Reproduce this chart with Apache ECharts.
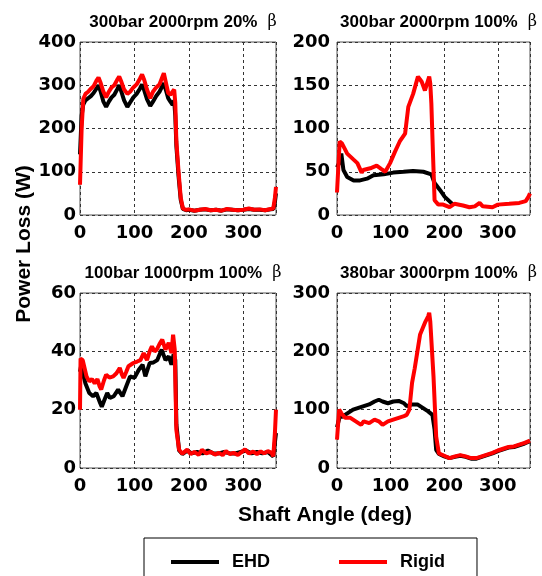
<!DOCTYPE html>
<html>
<head>
<meta charset="utf-8">
<script src="https://cdn.jsdelivr.net/npm/echarts@6/dist/echarts.min.js"></script>
<style>
html,body{margin:0;padding:0;background:#fff;}
#chart{width:542px;height:576px;}
</style>
</head>
<body>
<div id="chart"></div>
<script>
// ---- Data (shaft angle in deg, power loss in W) ----
const seriesNames = ['EHD', 'Rigid'];
const xTicks = [0, 100, 200, 300];
const panelTitles = ['300bar 2000rpm 20%', '300bar 2000rpm 100%', '100bar 1000rpm 100%', '380bar 3000rpm 100%'];
const yMax = [400, 200, 60, 300];
const yInterval = [100, 50, 20, 100];

// Panel 1: 300bar 2000rpm 20% beta
const ehd1 = [[0,140],[3,230],[6,255],[10,265],[15,270],[20,275],[25,282],[30,292],[34,300],[38,285],[43,262],[48,250],[53,262],[58,272],[63,278],[68,290],[72,300],[76,285],[81,265],[87,250],[92,260],[98,272],[104,280],[110,292],[114,302],[118,288],[123,268],[129,252],[134,262],[140,275],[146,285],[150,295],[154,305],[158,288],[162,270],[166,262],[170,255],[173,265],[175,230],[177,160],[181,90],[185,35],[189,14],[195,11],[200,12],[210,10],[220,12],[230,13],[240,11],[250,12],[260,10],[270,13],[280,12],[290,11],[300,12],[310,14],[320,12],[330,12],[340,11],[350,13],[355,14],[358,30],[360,50]];
const rigid1 = [[0,70],[3,200],[6,268],[10,280],[15,285],[20,292],[25,298],[30,310],[34,318],[38,305],[43,285],[48,272],[53,285],[58,295],[63,300],[68,312],[72,320],[76,308],[81,290],[87,280],[92,285],[98,295],[104,302],[110,315],[114,325],[118,312],[123,290],[129,270],[134,285],[140,295],[146,302],[150,315],[154,328],[158,305],[162,282],[166,278],[170,285],[173,290],[175,260],[177,170],[181,100],[185,40],[189,15],[195,12],[200,13],[210,10],[220,12],[230,14],[240,11],[250,12],[260,10],[270,14],[280,12],[290,11],[300,12],[310,15],[320,12],[330,13],[340,11],[350,14],[355,15],[358,40],[360,65]];

// Panel 2: 300bar 2000rpm 100% beta
const ehd2 = [[0,55],[4,60],[8,71],[12,52],[19,44],[31,40],[43,40],[56,42],[68,46],[87,47],[105,49],[124,50],[142,51],[161,50],[176,47],[182,37],[192,29],[201,21],[213,14],[216,12]];
const rigid2 = [[0,26],[5,85],[9,83],[19,71],[31,64],[38,60],[46,49],[49,52],[62,54],[74,57],[83,53],[90,50],[99,60],[108,73],[117,85],[127,94],[133,125],[142,140],[151,160],[158,154],[164,144],[167,142],[172,160],[174,152],[176,129],[179,71],[182,17],[189,12],[198,12],[210,9],[219,13],[235,11],[247,9],[257,10],[266,14],[272,10],[290,9],[300,12],[321,13],[340,14],[352,16],[357,21],[360,25]];

// Panel 3: 100bar 1000rpm 100% beta
const ehd3 = [[0,33],[2,35],[10,29],[17,25.7],[24,24.6],[30,25.7],[37,22.3],[40,21],[45,23.4],[50,25.7],[55,24],[62,24.6],[70,26.9],[78,24.6],[85,28],[92,31.4],[100,30.9],[108,33.7],[115,35.4],[120,31.4],[128,36],[135,36.2],[142,37],[150,40.6],[157,37],[163,38.3],[168,35.4],[172,39],[175,37],[177,15],[182,6],[188,4.8],[197,6],[205,5],[215,5.5],[225,5],[235,6],[245,5],[255,5],[265,5.5],[275,5],[285,5],[295,5.5],[305,6],[315,5],[325,5.5],[335,5],[345,5.5],[355,4],[360,12]];
const rigid3 = [[0,20],[1,37.5],[5,37],[8,36.6],[12,31.4],[17,29.7],[22,30.5],[27,29],[32,30.5],[36,28],[39,26.9],[44,30],[48,32],[54,31],[61,31.4],[67,32.5],[73,34.3],[77,32],[80,30.9],[85,33],[89,34.9],[98,36],[105,36.5],[111,37],[117,39.4],[123,37],[128,40],[132,41.7],[137,40],[141,40.6],[146,42.5],[151,44],[157,40.6],[163,42.9],[168,39.4],[171,45.7],[174,40.6],[177,13],[182,6.3],[188,4.9],[197,6.3],[203,4.8],[210,5.5],[218,4.5],[224,6.2],[232,5],[240,5.5],[248,4.6],[255,5.2],[262,4.4],[268,5.8],[275,4.8],[282,5.2],[290,4.5],[297,5.5],[303,6.4],[310,5],[318,5.6],[325,4.8],[332,5.7],[338,5],[345,5.8],[352,5.2],[355,4],[358,12],[360,20]];

// Panel 4: 380bar 3000rpm 100% beta
const ehd4 = [[0,70],[5,88],[10,88],[20,94],[30,100],[40,103],[50,106],[60,109],[70,114],[78,117],[85,114],[95,111],[105,114],[115,115],[125,111],[130,106],[140,109],[150,109],[160,103],[170,97],[178,91],[182,66],[185,31],[190,24],[200,20],[210,17],[220,19],[230,21],[240,19],[250,16],[260,16],[270,19],[280,22],[290,25],[300,29],[310,32],[320,35],[330,36],[340,39],[350,42],[360,46]];
const rigid4 = [[0,48.6],[4,100],[8,94],[15,86],[25,86],[35,80],[45,74],[50,80],[60,77],[70,83],[78,80],[85,74],[95,80],[105,83],[115,86],[125,89],[130,91],[135,100],[140,146],[145,171],[150,200],[155,229],[160,240],[165,251],[170,260],[172,266],[174,251],[176,254],[180,157],[185,54],[190,25],[200,21],[210,17],[220,20],[230,22],[240,20],[250,17],[260,17],[270,20],[280,23],[290,26],[300,30],[310,33],[320,36],[330,37],[340,40],[350,43],[360,47]];

const ehdData = [ehd1, ehd2, ehd3, ehd4];
const rigidData = [rigid1, rigid2, rigid3, rigid4];

// ---- Layout ----
const grids = [
  {left: 80, top: 42, width: 196, height: 173},
  {left: 337, top: 42, width: 193, height: 173},
  {left: 80, top: 293, width: 196, height: 175},
  {left: 337, top: 293, width: 193, height: 175}
];
const yLabelMargin = [4, 7, 4, 7];
const tickFont = {fontFamily: 'DejaVu Sans', fontWeight: 'bold', fontSize: 18, color: '#000'};
const splitStyle = {show: true, lineStyle: {color: '#333', type: [3, 3], width: 1}};

const option = {
  animation: false,
  backgroundColor: '#fff',
  title: panelTitles.map((t, i) => ({
    text: '{b|' + t + '}  {g|β}',
    left: grids[i].left + grids[i].width / 2,
    textAlign: 'center',
    top: i < 2 ? 8 : 259,
    textStyle: {
      rich: {
        b: {fontFamily: 'Liberation Sans', fontWeight: 'bold', fontSize: 17, color: '#000'},
        g: {fontFamily: 'DejaVu Serif', fontWeight: 'normal', fontSize: 16, color: '#000'}
      }
    }
  })),
  grid: grids.map(g => Object.assign({show: true, borderColor: '#555', borderWidth: 1, backgroundColor: 'transparent'}, g)),
  xAxis: grids.map((g, i) => ({
    gridIndex: i, type: 'value', min: 0, max: 360, interval: 100,
    axisLine: {show: false}, axisTick: {show: false},
    axisLabel: Object.assign({margin: 9, showMaxLabel: false, formatter: v => xTicks.includes(v) ? String(v) : ''}, tickFont),
    splitLine: splitStyle
  })),
  yAxis: grids.map((g, i) => ({
    gridIndex: i, type: 'value', min: 0, max: yMax[i], interval: yInterval[i],
    axisLine: {show: false}, axisTick: {show: false},
    axisLabel: Object.assign({margin: yLabelMargin[i]}, tickFont),
    splitLine: splitStyle
  })),
  legend: {
    data: seriesNames,
    left: 144, top: 538,
    orient: 'horizontal',
    icon: 'rect',
    itemWidth: 48, itemHeight: 4,
    itemGap: 69,
    padding: [15, 32, 40, 27],
    borderColor: '#000', borderWidth: 1,
    textStyle: {fontFamily: 'Liberation Sans', fontWeight: 'bold', fontSize: 18, color: '#000', padding: [0, 0, 0, 8]}
  },
  graphic: [
    {type: 'text', x: 325, y: 515, style: {text: 'Shaft Angle (deg)', fontFamily: 'Liberation Sans', fontWeight: 'bold', fontSize: 21, fill: '#000', align: 'center', verticalAlign: 'middle'}},
    {type: 'text', x: 24, y: 244, rotation: Math.PI / 2, style: {text: 'Power Loss (W)', fontFamily: 'Liberation Sans', fontWeight: 'bold', fontSize: 21, fill: '#000', align: 'center', verticalAlign: 'middle'}}
  ],
  series: []
};

for (let i = 0; i < 4; i++) {
  option.series.push({
    name: seriesNames[0], type: 'line', xAxisIndex: i, yAxisIndex: i,
    data: ehdData[i], showSymbol: false, symbol: 'none',
    lineStyle: {color: '#000', width: 4}, itemStyle: {color: '#000'}, z: 2
  });
  option.series.push({
    name: seriesNames[1], type: 'line', xAxisIndex: i, yAxisIndex: i,
    data: rigidData[i], showSymbol: false, symbol: 'none',
    lineStyle: {color: '#ff0000', width: 4}, itemStyle: {color: '#ff0000'}, z: 3
  });
}

const chart = echarts.init(document.getElementById('chart'), null, {renderer: 'canvas'});
chart.setOption(option);
</script>
</body>
</html>
